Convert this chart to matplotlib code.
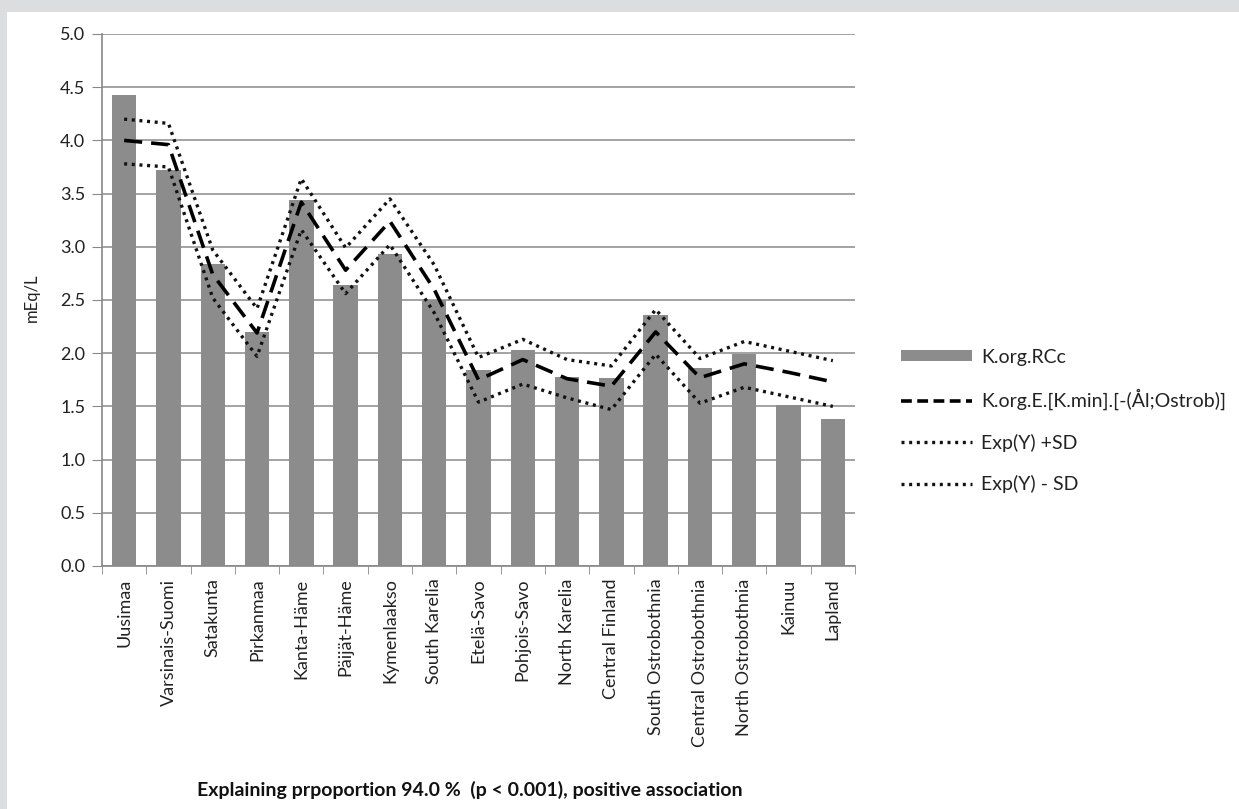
import numpy as np
import matplotlib.pyplot as plt
from matplotlib.patches import Rectangle
from matplotlib.lines import Line2D
from matplotlib.patches import Patch

plt.rcParams['font.family'] = ['Lato', 'DejaVu Sans']

regions = [
    "Uusimaa", "Varsinais-Suomi", "Satakunta", "Pirkanmaa", "Kanta-Häme",
    "Päijät-Häme", "Kymenlaakso", "South Karelia", "Etelä-Savo", "Pohjois-Savo",
    "North Karelia", "Central Finland", "South Ostrobothnia", "Central Ostrobothnia",
    "North Ostrobothnia", "Kainuu", "Lapland"
]

# observed K.org.RCc
observed = [4.43, 3.72, 2.84, 2.20, 3.44, 2.64, 2.93, 2.50, 1.84, 2.03,
            1.78, 1.77, 2.36, 1.86, 1.99, 1.51, 1.38]
# model K.org.E.[K.min].[-(Ål;Ostrob)]
expected = [4.00, 3.96, 2.74, 2.19, 3.42, 2.78, 3.24, 2.60, 1.75, 1.94,
            1.76, 1.69, 2.20, 1.77, 1.90, 1.82, 1.73]
upper_sd = [4.20, 4.16, 2.97, 2.42, 3.64, 2.99, 3.45, 2.83, 1.96, 2.13,
            1.94, 1.88, 2.41, 1.95, 2.11, 2.02, 1.93]
lower_sd = [3.78, 3.75, 2.52, 1.97, 3.16, 2.56, 3.02, 2.38, 1.54, 1.71,
            1.58, 1.47, 1.99, 1.53, 1.68, 1.59, 1.50]

x_label = "Explaining prpoportion 94.0 %  (p < 0.001), positive association"
y_label = "mEq/L"

dash_style = (0, (5, 2.5))
dot_style = (0, (0.9, 1.4))

fig = plt.figure(figsize=(12.39, 8.09), dpi=100)
fig.patch.set_facecolor('#dcdddf')
fig.patches.append(Rectangle((7 / 1239, 0), 1, 1 - 12 / 809, transform=fig.transFigure,
                             facecolor='white', edgecolor='none', zorder=-10))

ax = fig.add_axes([102 / 1239, 1 - 566 / 809, (855 - 102) / 1239, (566 - 34) / 809])
ax.set_facecolor('none')

x = np.arange(len(regions))
ax.bar(x, observed, width=0.55, color='#8c8c8c', zorder=2)
ax.plot(x, expected, color='black', lw=2.6, ls=dash_style, zorder=3)
ax.plot(x, upper_sd, color='#111111', lw=2.4, ls=dot_style, zorder=3)
ax.plot(x, lower_sd, color='#111111', lw=2.4, ls=dot_style, zorder=3)

ax.set_xlim(-0.5, len(regions) - 0.5)
ax.set_ylim(0, 5)
ax.set_yticks(np.arange(0, 5.01, 0.5))
ax.set_yticklabels([f"{v:.1f}" for v in np.arange(0, 5.01, 0.5)], fontsize=13, color='#222222')
ax.yaxis.grid(True, color='#8a8a8a', lw=1.1, zorder=1)
ax.set_axisbelow(True)

ax.set_xticks(x)
ax.set_xticklabels(regions, rotation=90, fontsize=13, color='#222222')
ax.set_xticks(np.arange(-0.5, len(regions), 1), minor=True)
ax.tick_params(axis='x', which='major', length=0, pad=9)
ax.tick_params(axis='x', which='minor', length=6, color='#888888', direction='out')
ax.tick_params(axis='y', length=7, color='#888888', pad=5)

for s in ['top', 'right']:
    ax.spines[s].set_visible(False)
for s in ['left', 'bottom']:
    ax.spines[s].set_color('#888888')
    ax.spines[s].set_linewidth(1.2)

fig.text(32 / 1239, 1 - 298 / 809, y_label, rotation=90, ha='center', va='center',
         fontsize=12, color='#222222')
fig.text(470 / 1239, 1 - 790 / 809, x_label, ha='center', va='center',
         fontsize=14, fontweight='bold', color='#111111')

handles = [
    Patch(facecolor='#8c8c8c', edgecolor='none', label='K.org.RCc'),
    Line2D([0], [0], color='black', lw=2.6, ls=(0, (3, 1.5)), label='K.org.E.[K.min].[-(Ål;Ostrob)]'),
    Line2D([0], [0], color='#111111', lw=2.4, ls=dot_style, label='Exp(Y) +SD'),
    Line2D([0], [0], color='#111111', lw=2.4, ls=dot_style, label='Exp(Y) - SD'),
]
fig.legend(handles=handles, loc='upper left', bbox_to_anchor=(883 / 1239, 1 - 331 / 809),
           frameon=False, fontsize=14, handlelength=3.7, handleheight=0.5,
           handletextpad=0.45, labelspacing=1.2, labelcolor='#222222')

fig.savefig('out.png', dpi=100, facecolor=fig.get_facecolor())
